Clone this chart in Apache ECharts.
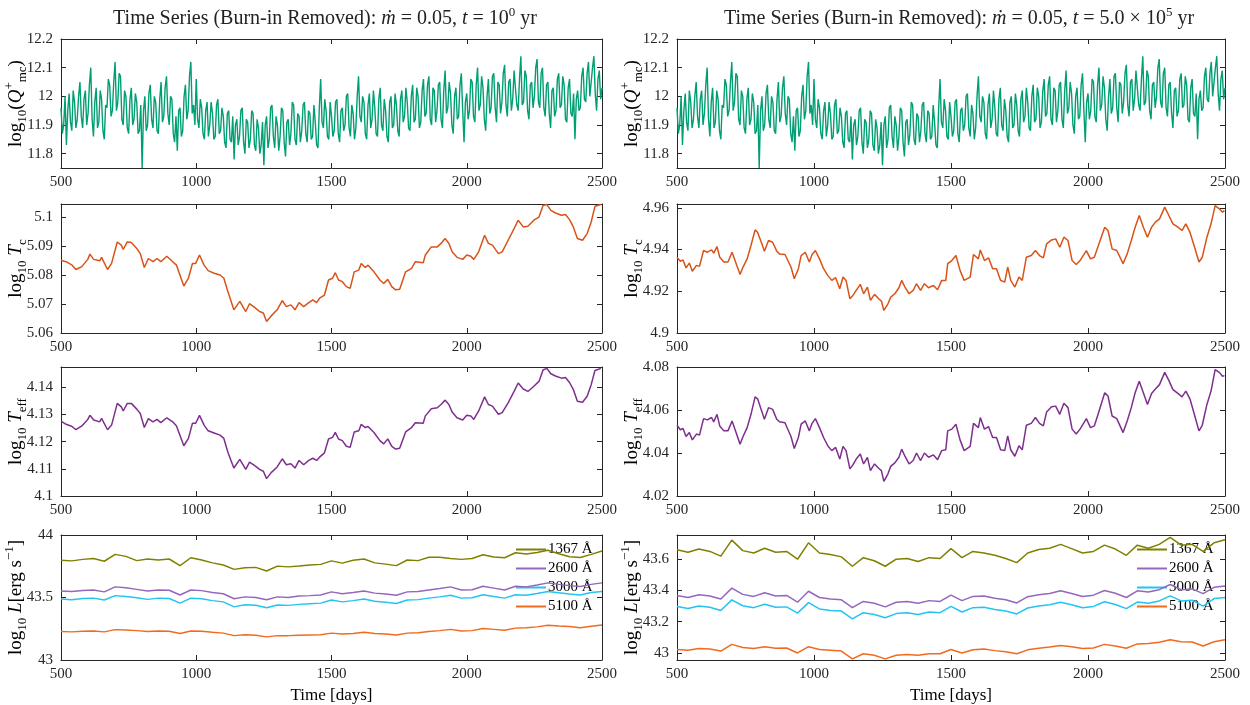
<!DOCTYPE html>
<html>
<head>
<meta charset="utf-8">
<script src="https://cdn.jsdelivr.net/npm/echarts@6/dist/echarts.min.js"></script>
<style>
html, body { margin: 0; padding: 0; background: #fff; }
#chart { width: 1250px; height: 705px; }
</style>
</head>
<body>
<div id="chart"></div>
<script>
// ---- data ----
var qDays = [
  500,505,510,515,520,525,530,535,540,545,550,555,560,565,570,575,580,585,590,595,
  600,605,610,615,620,625,630,635,640,645,650,655,660,665,670,675,680,685,690,695,
  700,705,710,715,720,725,730,735,740,745,750,755,760,765,770,775,780,785,790,795,
  800,805,810,815,820,825,830,835,840,845,850,855,860,865,870,875,880,885,890,895,
  900,905,910,915,920,925,930,935,940,945,950,955,960,965,970,975,980,985,990,995,
  1000,1005,1010,1015,1020,1025,1030,1035,1040,1045,1050,1055,1060,1065,1070,1075,1080,1085,1090,1095,
  1100,1105,1110,1115,1120,1125,1130,1135,1140,1145,1150,1155,1160,1165,1170,1175,1180,1185,1190,1195,
  1200,1205,1210,1215,1220,1225,1230,1235,1240,1245,1250,1255,1260,1265,1270,1275,1280,1285,1290,1295,
  1300,1305,1310,1315,1320,1325,1330,1335,1340,1345,1350,1355,1360,1365,1370,1375,1380,1385,1390,1395,
  1400,1405,1410,1415,1420,1425,1430,1435,1440,1445,1450,1455,1460,1465,1470,1475,1480,1485,1490,1495,
  1500,1505,1510,1515,1520,1525,1530,1535,1540,1545,1550,1555,1560,1565,1570,1575,1580,1585,1590,1595,
  1600,1605,1610,1615,1620,1625,1630,1635,1640,1645,1650,1655,1660,1665,1670,1675,1680,1685,1690,1695,
  1700,1705,1710,1715,1720,1725,1730,1735,1740,1745,1750,1755,1760,1765,1770,1775,1780,1785,1790,1795,
  1800,1805,1810,1815,1820,1825,1830,1835,1840,1845,1850,1855,1860,1865,1870,1875,1880,1885,1890,1895,
  1900,1905,1910,1915,1920,1925,1930,1935,1940,1945,1950,1955,1960,1965,1970,1975,1980,1985,1990,1995,
  2000,2005,2010,2015,2020,2025,2030,2035,2040,2045,2050,2055,2060,2065,2070,2075,2080,2085,2090,2095,
  2100,2105,2110,2115,2120,2125,2130,2135,2140,2145,2150,2155,2160,2165,2170,2175,2180,2185,2190,2195,
  2200,2205,2210,2215,2220,2225,2230,2235,2240,2245,2250,2255,2260,2265,2270,2275,2280,2285,2290,2295,
  2300,2305,2310,2315,2320,2325,2330,2335,2340,2345,2350,2355,2360,2365,2370,2375,2380,2385,2390,2395,
  2400,2405,2410,2415,2420,2425,2430,2435,2440,2445,2450,2455,2460,2465,2470,2475,2480,2485,2490,2495,
  2500
];
var qVals = [
  11.96,11.87,11.90,12.00,11.83,11.95,12.01,11.91,11.88,12.02,11.98,11.89,11.92,12.00,12.05,11.93,11.89,11.99,12.02,11.90,
  11.94,12.04,12.10,11.92,11.86,11.98,12.03,11.89,11.91,12.02,11.99,11.88,11.85,11.97,11.96,12.06,12.04,11.93,11.95,12.05,
  12.12,11.95,11.98,12.08,12.07,11.92,11.90,12.02,12.00,11.89,11.87,11.99,12.03,11.90,11.92,12.01,11.98,11.87,11.88,11.97,
  11.75,11.95,12.00,11.88,11.90,12.01,12.04,11.92,11.89,12.00,11.98,11.88,11.87,11.99,12.05,11.91,11.93,12.03,12.07,11.94,
  11.90,12.00,11.99,11.87,11.84,11.93,11.81,11.95,11.96,11.86,11.88,12.00,12.04,11.92,11.95,12.07,12.12,11.94,11.97,11.90,
  12.06,11.92,11.89,11.99,11.96,11.87,11.85,11.95,11.98,11.86,11.90,11.98,11.94,11.85,11.86,11.97,11.99,11.87,11.88,11.96,
  11.93,11.84,11.82,11.94,11.95,11.85,11.84,11.93,11.78,11.90,11.92,11.83,11.86,11.95,11.96,11.84,11.80,11.92,11.91,11.82,
  11.85,11.95,11.94,11.83,11.81,11.92,11.89,11.80,11.83,11.91,11.76,11.90,11.93,11.82,11.85,11.96,11.97,11.86,11.82,11.93,
  11.90,11.81,11.86,11.96,11.95,11.84,11.79,11.91,11.92,11.83,11.87,11.98,11.97,11.85,11.83,11.94,11.93,11.84,11.88,11.97,
  11.98,11.87,11.84,11.95,11.94,11.85,11.86,11.97,11.91,11.83,11.82,11.96,12.06,11.91,11.89,11.99,11.95,11.86,11.85,11.98,
  11.93,11.86,11.88,11.98,11.99,11.87,11.84,11.95,11.96,11.88,11.90,12.00,12.01,11.89,11.86,11.97,11.94,11.85,11.89,12.00,
  12.07,11.93,11.91,12.00,11.98,11.87,11.85,11.97,12.01,11.89,11.92,12.02,11.96,11.87,11.86,11.99,12.03,11.90,11.88,11.99,
  11.95,11.86,11.84,11.98,12.00,11.89,11.90,12.01,11.97,11.88,11.86,11.99,12.02,11.91,11.93,12.03,11.98,11.89,11.88,12.00,
  12.04,11.91,11.92,12.03,12.00,11.89,11.91,12.02,12.06,11.93,11.94,12.04,12.07,11.92,11.90,12.03,12.02,11.91,11.95,12.04,
  12.05,11.92,11.89,12.02,12.09,11.94,11.96,12.05,12.01,11.90,11.87,12.00,12.03,11.92,11.93,12.04,12.08,11.95,11.84,11.98,
  12.01,11.92,11.95,12.06,12.05,11.93,11.91,12.04,12.10,11.95,11.97,12.07,12.03,11.92,11.88,12.00,12.06,11.94,11.96,12.07,
  12.08,11.96,11.91,12.05,12.04,11.94,11.98,12.08,12.11,11.97,11.93,12.05,12.06,11.95,11.99,12.09,12.09,11.97,11.95,12.06,
  12.14,11.97,11.98,12.09,12.07,11.95,11.92,12.04,12.05,11.96,12.00,12.10,12.13,11.98,11.96,12.08,12.10,11.96,11.93,12.04,
  12.05,11.94,11.89,12.02,12.03,11.93,11.95,12.06,12.08,11.96,11.97,12.07,12.04,11.92,11.91,12.03,12.06,11.94,11.93,12.01,
  11.85,11.99,12.02,11.95,11.96,12.07,12.10,11.99,11.98,12.08,12.12,12.00,12.00,12.10,12.14,12.01,11.95,12.06,12.09,11.99,
  12.03
];

// left column (t = 10^0 yr)
var tDaysL = [
  500,519,541,555,577,599,607,621,643,650, 672,687,708,723,730,745,760,781,793,808,
  823,840,855,869,891,913,927,954,971,986, 998,1012,1029,1044,1066,1088,1102,1117,1139,1161,
  1183,1197,1219,1234,1248,1260,1277,1299,1318,1333, 1350,1365,1380,1397,1416,1431,1445,1456,1474,1489,
  1504,1514,1526,1540,1555,1569,1584,1601,1610,1625, 1635,1657,1679,1693,1708,1723,1737,1752,1774,1796,
  1810,1839,1847,1869,1891,1905,1920,1934,1946,1964, 1985,2000,2015,2026,2044,2066,2080,2095,2117,2131,
  2153,2175,2190,2209,2226,2248,2267,2282,2296,2311, 2328,2350,2365,2380,2394,2409,2428,2445,2460,2474,
  2496
];
var tcL = [
  5.0851,5.0846,5.0834,5.0819,5.0829,5.0854,5.0872,5.0854,5.0849,5.0861, 5.0819,5.084,5.0914,5.0903,5.0888,5.0914,5.0912,5.0891,5.0874,5.0826,
  5.0857,5.0846,5.0857,5.0846,5.0865,5.0846,5.0834,5.0762,5.0789,5.084, 5.084,5.0869,5.0834,5.0815,5.0806,5.08,5.0789,5.0743,5.068,5.0709,
  5.0674,5.0701,5.0686,5.0674,5.0669,5.064,5.0659,5.068,5.0712,5.0691, 5.0697,5.068,5.0705,5.0691,5.0705,5.0714,5.0705,5.072,5.0731,5.0783,
  5.0789,5.0808,5.0783,5.0777,5.076,5.0754,5.0811,5.0817,5.084,5.0826, 5.0834,5.0811,5.0783,5.0771,5.0785,5.076,5.0749,5.0751,5.0811,5.0823,
  5.0846,5.0842,5.0869,5.0897,5.0897,5.0909,5.0926,5.0909,5.088,5.0861, 5.0854,5.0869,5.0865,5.0854,5.088,5.0937,5.0909,5.0903,5.0874,5.088,
  5.092,5.096,5.0989,5.0966,5.0968,5.0989,5.1,5.104,5.1043,5.1023, 5.1014,5.1006,5.1009,5.0991,5.0966,5.0926,5.092,5.0943,5.0983,5.1037,
  5.1043
];
var teffL = [
  4.1276,4.1264,4.1256,4.1244,4.1258,4.1282,4.1297,4.128,4.1273,4.1286, 4.1244,4.1261,4.1341,4.1328,4.1313,4.1341,4.1341,4.1319,4.1304,4.1252,
  4.1285,4.1273,4.1282,4.127,4.1288,4.1273,4.1258,4.1185,4.1212,4.1268, 4.1268,4.1297,4.1261,4.124,4.1232,4.1224,4.1212,4.1161,4.1103,4.1135,
  4.1098,4.1125,4.111,4.1098,4.1091,4.1064,4.1086,4.1107,4.1137,4.1115, 4.1119,4.1103,4.1131,4.1115,4.1131,4.1139,4.1131,4.1143,4.1159,4.121,
  4.1216,4.1234,4.121,4.1204,4.1183,4.1179,4.1236,4.124,4.1264,4.1252, 4.1256,4.1234,4.1204,4.1192,4.121,4.1183,4.1173,4.1176,4.1236,4.1252,
  4.127,4.1268,4.1295,4.1321,4.1325,4.1337,4.1353,4.1337,4.1309,4.1288, 4.128,4.1297,4.1295,4.1282,4.1313,4.1365,4.1337,4.1331,4.1301,4.1307,
  4.1343,4.1385,4.1416,4.1394,4.1385,4.1404,4.1422,4.1464,4.147,4.145, 4.1442,4.1434,4.1436,4.1418,4.1392,4.1349,4.1345,4.1367,4.141,4.1462,
  4.147
];

// right column (t = 5.0 x 10^5 yr)
var tDaysR = [
  500,512,522,533,545,556,571,582,597,611, 626,634,646,656,671,686,701,715,730,741,
  756,770,785,794,809,819,834,849,864,874, 894,916,928,943,953,968,983,993,1005,1020,
  1035,1050,1065,1079,1094,1106,1117,1131,1142,1154, 1169,1181,1195,1206,1221,1236,1246,1255,1270,1280,
  1295,1310,1320,1332,1347,1362,1374,1389,1403,1418, 1436,1451,1466,1481,1488,1503,1518,1533,1548,1570,
  1582,1600,1607,1622,1637,1652,1666,1681,1696,1707, 1718,1733,1748,1760,1775,1793,1808,1823,1837,1849,
  1867,1882,1897,1912,1927,1942,1957,1971,1994,2009, 2023,2038,2061,2073,2088,2105,2128,2143,2158,2172,
  2187,2202,2217,2232,2246,2261,2280,2295,2310,2328, 2343,2357,2372,2387,2405,2417,2434,2449,2464,2479,
  2491,2498
];
var tcR = [
  4.9363,4.9344,4.935,4.9312,4.9335,4.9296,4.9324,4.9319,4.9395,4.9387, 4.9398,4.9383,4.9414,4.9363,4.934,4.934,4.9387,4.9335,4.9281,4.9316,
  4.9355,4.9419,4.9494,4.9483,4.943,4.9392,4.9443,4.9435,4.9392,4.9379, 4.9376,4.9316,4.926,4.9308,4.9371,4.9387,4.934,4.9376,4.9395,4.9355,
  4.9308,4.9276,4.9252,4.9265,4.9212,4.9268,4.9252,4.9164,4.918,4.9204, 4.9233,4.9188,4.922,4.9156,4.9185,4.9164,4.9153,4.9108,4.914,4.9172,
  4.9188,4.9217,4.9252,4.922,4.9188,4.9204,4.9236,4.9204,4.9236,4.9217, 4.9228,4.9207,4.9252,4.9252,4.9332,4.9347,4.9371,4.93,4.9252,4.9268,
  4.9376,4.9355,4.9398,4.9347,4.936,4.9308,4.9308,4.9252,4.9244,4.9316, 4.9252,4.922,4.9268,4.9252,4.9363,4.9371,4.9395,4.9371,4.936,4.9427,
  4.9446,4.9451,4.9411,4.9459,4.9443,4.9347,4.9328,4.9347,4.9395,4.9355, 4.9363,4.9419,4.9507,4.9491,4.9403,4.9395,4.9332,4.9379,4.9443,4.9507,
  4.9563,4.9507,4.9459,4.9507,4.9531,4.9547,4.9603,4.9563,4.9523,4.9507, 4.9491,4.9523,4.9483,4.9419,4.934,4.9363,4.9459,4.9523,4.961,4.9595,
  4.9579,4.9586
];
var teffR = [
  4.0529,4.0508,4.0514,4.0477,4.0495,4.0461,4.0488,4.0483,4.056,4.0554, 4.0565,4.0545,4.058,4.0526,4.0503,4.0503,4.0549,4.0498,4.0441,4.0477,
  4.0518,4.058,4.0661,4.0652,4.0595,4.0557,4.0611,4.0603,4.0557,4.0545, 4.0541,4.0477,4.0421,4.0472,4.0534,4.0549,4.0503,4.0538,4.056,4.0518,
  4.0472,4.0434,4.0411,4.0426,4.0372,4.0431,4.0411,4.0326,4.0345,4.0372, 4.0395,4.0349,4.038,4.0318,4.0349,4.0329,4.0318,4.0268,4.0303,4.0338,
  4.0354,4.038,4.0418,4.0385,4.0349,4.0365,4.04,4.0365,4.04,4.038, 4.0391,4.0369,4.0411,4.0415,4.0503,4.0511,4.0534,4.0461,4.0411,4.0431,
  4.0538,4.0518,4.0565,4.0511,4.0523,4.0472,4.0472,4.0415,4.0411,4.048, 4.0415,4.0385,4.0434,4.0415,4.0529,4.0538,4.0565,4.0538,4.0526,4.0591,
  4.0615,4.0618,4.058,4.0631,4.0611,4.0511,4.0488,4.0511,4.056,4.0518, 4.0526,4.0585,4.068,4.0665,4.0572,4.056,4.0495,4.0549,4.0611,4.068,
  4.0734,4.068,4.0626,4.0677,4.0698,4.0718,4.0775,4.0738,4.0695,4.0677, 4.0661,4.0688,4.0652,4.0585,4.0503,4.0529,4.0626,4.0688,4.0788,4.0775,
  4.0757,4.076
];

// luminosity bands
var lDays = [
  500,540,580,620,660,700,740,780,820,860, 900,940,980,1020,1060,1100,1140,1180,1220,1260,
  1300,1340,1380,1420,1460,1500,1540,1580,1620,1660, 1700,1740,1780,1820,1860,1900,1940,1980,2020,2060,
  2100,2140,2180,2220,2260,2300,2340,2380,2420,2460, 2500
];
var bandNames = ['1367 Å', '2600 Å', '3000 Å', '5100 Å'];
var l1367L = [43.798,43.793,43.805,43.812,43.790,43.845,43.829,43.795,43.808,43.800, 43.808,43.755,43.818,43.800,43.777,43.760,43.725,43.738,43.741,43.712,
  43.751,43.745,43.752,43.760,43.765,43.793,43.775,43.798,43.808,43.777, 43.767,43.755,43.800,43.795,43.822,43.822,43.812,43.805,43.812,43.842,
  43.824,43.818,43.858,43.848,43.860,43.878,43.850,43.826,43.820,43.845, 43.872];
var l2600L = [43.552,43.548,43.556,43.560,43.545,43.585,43.578,43.565,43.552,43.560, 43.558,43.520,43.560,43.555,43.540,43.530,43.490,43.505,43.500,43.482,
  43.505,43.500,43.512,43.515,43.520,43.545,43.530,43.540,43.552,43.535, 43.528,43.518,43.545,43.548,43.560,43.572,43.585,43.560,43.562,43.590,
  43.575,43.560,43.590,43.585,43.600,43.617,43.605,43.595,43.588,43.605, 43.617];
var l3000L = [43.488,43.482,43.492,43.495,43.480,43.515,43.508,43.498,43.485,43.495, 43.492,43.455,43.495,43.490,43.475,43.465,43.425,43.442,43.438,43.418,
  43.440,43.437,43.445,43.450,43.455,43.480,43.465,43.475,43.488,43.470, 43.462,43.452,43.480,43.483,43.495,43.505,43.518,43.495,43.498,43.522,
  43.508,43.495,43.522,43.518,43.532,43.548,43.538,43.528,43.520,43.540, 43.548];
var l5100L = [43.228,43.225,43.230,43.232,43.225,43.243,43.240,43.235,43.228,43.232, 43.230,43.212,43.232,43.230,43.222,43.215,43.195,43.202,43.198,43.185,
  43.195,43.195,43.198,43.200,43.202,43.215,43.208,43.212,43.222,43.212, 43.208,43.200,43.215,43.218,43.228,43.235,43.245,43.232,43.235,43.252,
  43.245,43.238,43.255,43.258,43.265,43.278,43.272,43.268,43.258,43.270, 43.280];
var l1367R = [43.660,43.645,43.665,43.650,43.620,43.722,43.655,43.640,43.670,43.645, 43.650,43.600,43.705,43.640,43.630,43.615,43.555,43.610,43.590,43.555,
  43.600,43.605,43.585,43.610,43.605,43.668,43.610,43.650,43.640,43.625, 43.605,43.578,43.640,43.662,43.670,43.695,43.668,43.640,43.650,43.690,
  43.665,43.625,43.690,43.670,43.695,43.740,43.690,43.695,43.650,43.705, 43.725];
var l2600R = [43.368,43.355,43.372,43.365,43.345,43.415,43.375,43.362,43.385,43.365, 43.368,43.325,43.395,43.355,43.345,43.340,43.290,43.330,43.318,43.295,
  43.325,43.330,43.318,43.335,43.330,43.370,43.335,43.362,43.365,43.350, 43.340,43.320,43.360,43.372,43.380,43.398,43.380,43.362,43.370,43.400,
  43.382,43.355,43.398,43.390,43.405,43.438,43.405,43.410,43.380,43.420, 43.428];
var l3000R = [43.297,43.285,43.300,43.293,43.272,43.340,43.302,43.290,43.312,43.292, 43.295,43.255,43.322,43.282,43.272,43.268,43.218,43.258,43.246,43.225,
  43.252,43.258,43.246,43.262,43.258,43.298,43.262,43.290,43.292,43.278, 43.268,43.250,43.288,43.300,43.308,43.325,43.308,43.290,43.298,43.328,
  43.310,43.284,43.326,43.318,43.333,43.365,43.333,43.338,43.300,43.348, 43.355];
var l5100R = [43.022,43.018,43.028,43.025,43.012,43.055,43.035,43.028,43.040,43.030, 43.032,43.000,43.040,43.022,43.018,43.012,42.962,42.995,42.985,42.962,
  42.985,42.990,42.985,42.995,42.995,43.022,43.000,43.020,43.025,43.015, 43.008,42.995,43.020,43.030,43.038,43.048,43.040,43.028,43.032,43.055,
  43.045,43.030,43.058,43.060,43.068,43.085,43.072,43.070,43.045,43.072, 43.085];

// tick labels
var xTicks = [500, 1000, 1500, 2000, 2500];
var qTicks = [11.8, 11.9, 12, 12.1, 12.2];
var tcTicksL = [5.06, 5.07, 5.08, 5.09, 5.1];
var tcTicksR = [4.9, 4.92, 4.94, 4.96];
var teffTicksL = [4.1, 4.11, 4.12, 4.13, 4.14];
var teffTicksR = [4.02, 4.04, 4.06, 4.08];
var lTicksL = [43, 43.5, 44];
var lTicksR = [43, 43.2, 43.4, 43.6];

// ---- layout / styling ----
var FONT = 'Liberation Serif';
var INK = '#262626';
var bandColors = ['#808000', '#9467BD', '#22C4F2', '#F26A1D'];

var colLeft = [61, 677], colWidth = [541, 548];
var rowTop = [39, 204, 367, 535], rowHeight = [129, 129, 129, 128];
var titleCenter = [320, 954];

var rich = {
  n: { fontFamily: FONT, fontSize: 19, color: '#000', lineHeight: 26, verticalAlign: 'middle' },
  i: { fontFamily: FONT, fontSize: 19, color: '#000', fontStyle: 'italic', lineHeight: 26, verticalAlign: 'middle' },
  b: { fontFamily: FONT, fontSize: 13, color: '#000', lineHeight: 13, verticalAlign: 'bottom' },
  p: { fontFamily: FONT, fontSize: 13, color: '#000', lineHeight: 13, verticalAlign: 'top' }
};
var qName = '{n|log}{b|10}{n|(}{i|Q}{p|+}{b|mc}{n|)}';
var tcName = '{n|log}{b|10}{i| T}{b|c}';
var teffName = '{n|log}{b|10}{i| T}{b|eff}';
var lName = '{n|log}{b|10}{i| L}{n|[erg s}{p|−1}{n|]}';

function pairs(xs, ys) { return xs.map(function (d, k) { return [d, ys[k]]; }); }

var panels = [
  { col: 0, row: 0, name: qName, min: 11.75, max: 12.2, ticks: qTicks, lines: [{ x: qDays, y: qVals, c: '#009E73', w: 1.4 }] },
  { col: 0, row: 1, name: tcName, min: 5.06, max: 5.1045, ticks: tcTicksL, lines: [{ x: tDaysL, y: tcL, c: '#D95319', w: 1.5 }] },
  { col: 0, row: 2, name: teffName, min: 4.1, max: 4.1475, ticks: teffTicksL, lines: [{ x: tDaysL, y: teffL, c: '#7E2F8E', w: 1.5 }] },
  { col: 0, row: 3, name: lName, min: 43, max: 44, ticks: lTicksL, lines: [l1367L, l2600L, l3000L, l5100L].map(function (v, k) { return { x: lDays, y: v, c: bandColors[k], w: 1.5, n: bandNames[k] }; }) },
  { col: 1, row: 0, name: qName, min: 11.75, max: 12.2, ticks: qTicks, lines: [{ x: qDays, y: qVals, c: '#009E73', w: 1.4 }] },
  { col: 1, row: 1, name: tcName, min: 4.9, max: 4.9618, ticks: tcTicksR, lines: [{ x: tDaysR, y: tcR, c: '#D95319', w: 1.5 }] },
  { col: 1, row: 2, name: teffName, min: 4.02, max: 4.08, ticks: teffTicksR, lines: [{ x: tDaysR, y: teffR, c: '#7E2F8E', w: 1.5 }] },
  { col: 1, row: 3, name: lName, min: 42.955, max: 43.755, ticks: lTicksR, lines: [l1367R, l2600R, l3000R, l5100R].map(function (v, k) { return { x: lDays, y: v, c: bandColors[k], w: 1.5, n: bandNames[k] }; }) }
];

var grid = [], xAxis = [], yAxis = [], series = [];
var lineStyle = { color: INK, width: 1 };

panels.forEach(function (p, g) {
  grid.push({ left: colLeft[p.col], width: colWidth[p.col], top: rowTop[p.row], height: rowHeight[p.row], containLabel: false });
  var last = p.row === 3;
  [0, 1].forEach(function (side) {
    xAxis.push({
      type: 'value', gridIndex: g, min: 500, max: 2500, position: side ? 'top' : 'bottom',
      axisLine: { show: true, onZero: false, lineStyle: lineStyle },
      axisTick: { show: true, inside: true, length: 5, customValues: xTicks, lineStyle: lineStyle },
      axisLabel: { show: !side, customValues: xTicks, margin: 7, fontFamily: FONT, fontSize: 15, color: INK,
        formatter: function (v) { return String(v); } },
      splitLine: { show: false },
      name: (!side && last) ? 'Time [days]' : '', nameLocation: 'middle', nameGap: 27,
      nameTextStyle: { fontFamily: FONT, fontSize: 17, color: '#000' }
    });
    yAxis.push({
      type: 'value', gridIndex: g, min: p.min, max: p.max, position: side ? 'right' : 'left',
      axisLine: { show: true, onZero: false, lineStyle: lineStyle },
      axisTick: { show: true, inside: true, length: 5, customValues: p.ticks, lineStyle: lineStyle },
      axisLabel: { show: !side, customValues: p.ticks, margin: 8, fontFamily: FONT, fontSize: 15, color: INK,
        formatter: function (v) { return String(+v.toFixed(4)); } },
      splitLine: { show: false },
      name: side ? '' : p.name, nameLocation: 'middle', nameGap: 32, nameRotate: 90,
      nameMoveOverlap: false,
      nameTextStyle: { rich: rich }
    });
  });
  p.lines.forEach(function (ln) {
    series.push({
      type: 'line', name: ln.n, xAxisIndex: g * 2, yAxisIndex: g * 2,
      data: pairs(ln.x, ln.y), showSymbol: false, symbol: 'none',
      lineStyle: { color: ln.c, width: ln.w }, itemStyle: { color: ln.c },
      z: 10 - (ln.n ? bandNames.indexOf(ln.n) : 0), animation: false
    });
  });
});

var titleRich = {
  n: { fontFamily: FONT, fontSize: 20, fontWeight: 'normal', color: '#222', lineHeight: 26, verticalAlign: 'middle' },
  i: { fontFamily: FONT, fontSize: 20, fontWeight: 'normal', color: '#222', fontStyle: 'italic', lineHeight: 26, verticalAlign: 'middle' },
  p: { fontFamily: FONT, fontSize: 13, fontWeight: 'normal', color: '#222', lineHeight: 13, verticalAlign: 'top' }
};

function legendAt(left) {
  return {
    data: bandNames, left: left, top: 542, orient: 'vertical', icon: 'rect',
    itemWidth: 30, itemHeight: 2, itemGap: 4, selectedMode: false, padding: 0,
    textStyle: { fontFamily: FONT, fontSize: 15, color: '#000', padding: [0, 0, 0, -3] }
  };
}

var chart = echarts.init(document.getElementById('chart'));
chart.setOption({
  animation: false,
  backgroundColor: '#fff',
  title: [
    { text: '{n|Time Series (Burn-in Removed): }{i|ṁ}{n| = 0.05, }{i|t}{n| = 10}{p|0}{n| yr}', left: titleCenter[0], top: 1, textAlign: 'center',
      textStyle: { fontWeight: 'normal', rich: titleRich } },
    { text: '{n|Time Series (Burn-in Removed): }{i|ṁ}{n| = 0.05, }{i|t}{n| = 5.0 × 10}{p|5}{n| yr}', left: titleCenter[1], top: 1, textAlign: 'center',
      textStyle: { fontWeight: 'normal', rich: titleRich } }
  ],
  legend: [legendAt(516), legendAt(1137)],
  grid: grid,
  xAxis: xAxis,
  yAxis: yAxis,
  series: series
});
</script>
</body>
</html>
